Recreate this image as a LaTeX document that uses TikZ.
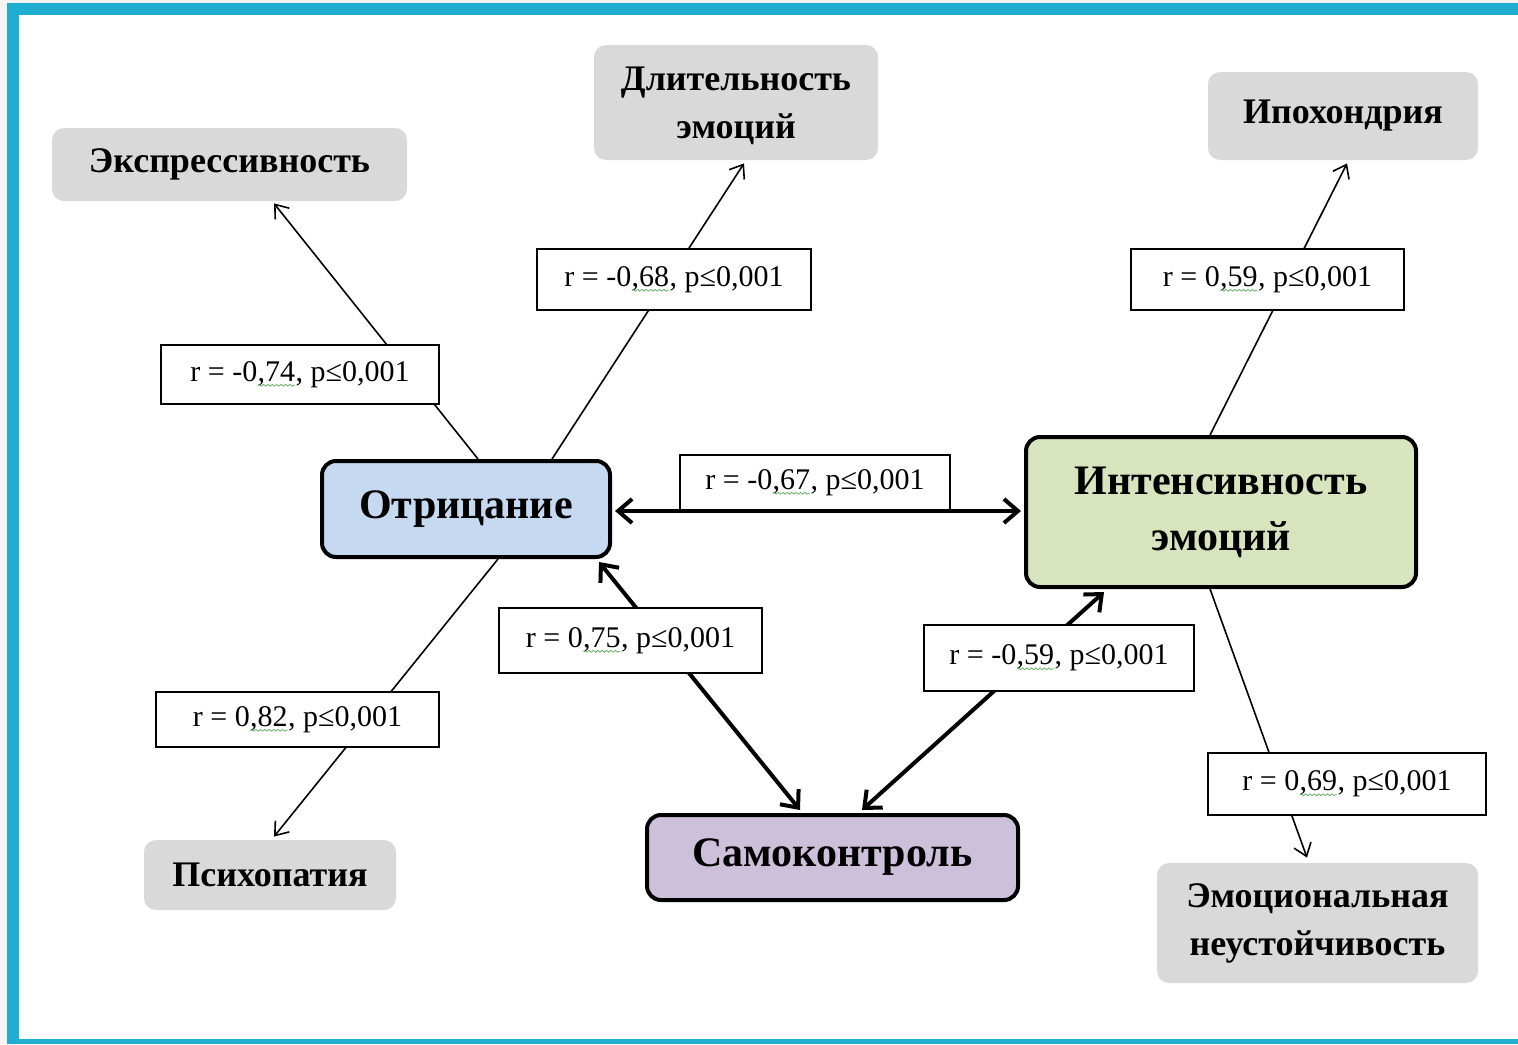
\documentclass[tikz,border=0pt]{standalone}
\usepackage{fontspec}
\setmainfont{Liberation Serif}
\usetikzlibrary{arrows.meta,calc,decorations.pathmorphing}
\definecolor{frame}{RGB}{31,174,207}
\definecolor{outbg}{RGB}{246,244,245}
\definecolor{greybox}{RGB}{217,217,217}
\definecolor{blueb}{RGB}{197,217,241}
\definecolor{greenb}{RGB}{215,228,189}
\definecolor{purpb}{RGB}{204,192,218}
\definecolor{wavyg}{RGB}{90,170,90}
\pgfdeclarelayer{back}
\pgfdeclarelayer{bg}
\pgfsetlayers{back,bg,main}
\newcommand\wv[1]{\tikz[baseline=(w.base)]{\node[draw=none,fill=none,inner sep=0pt,outer sep=0pt,minimum width=0pt,minimum height=0pt](w){#1};\draw[wavyg,line width=0.35pt,decorate,decoration={snake,amplitude=0.45pt,segment length=2.2pt}]([yshift=-2pt]w.base west)--([yshift=-2pt]w.base east);}}
\tikzset{
  greynode/.style={fill=greybox,rounded corners=6pt,inner sep=0pt,align=center,font=\fontsize{18}{24}\selectfont\bfseries},
  mainnode/.style={draw=black,line width=2pt,rounded corners=7pt,inner sep=0pt,align=center,font=\fontsize{21}{28}\selectfont\bfseries},
  lab/.style={draw=black,line width=0.6pt,fill=white,inner sep=0pt,font=\fontsize{15}{17}\selectfont},
  thinline/.style={line width=0.8pt,-{Straight Barb[length=6pt,width=9pt,line width=0.8pt]}},
  thickline/.style={line width=2pt,{Straight Barb[length=7pt,width=12pt,line width=2pt]}-{Straight Barb[length=7pt,width=12pt,line width=2pt]}}
}
\begin{document}
\begin{tikzpicture}[x=0.5pt,y=-0.5pt]
\useasboundingbox (0,0) rectangle (1518,1044);
\begin{pgfonlayer}{back}
\fill[outbg] (0,0) rectangle (1518,1044);
\fill[frame] (7,3) rectangle (1518,1044);
\fill[white] (19,15) rectangle (1518,1039);
\end{pgfonlayer}
% grey nodes
\node[greynode,minimum width=177.5pt,minimum height=36.5pt] (expr) at (229.5,164.5) {Экспрессивность};
\node[greynode,minimum width=142pt,minimum height=57.5pt,text depth=-2pt] (dlit) at (736,102.5) {Длительность\\эмоций};
\node[greynode,minimum width=135pt,minimum height=44pt] (ipo) at (1343,116) {\raisebox{1.5pt}{Ипохондрия}};
\node[greynode,minimum width=126pt,minimum height=35pt] (psy) at (270,875) {Психопатия};
\node[greynode,minimum width=160.5pt,minimum height=60pt] (emo) at (1317.5,923) {Эмоциональная\\неустойчивость};
% main nodes
\node[mainnode,fill=blueb,minimum width=144pt,minimum height=48pt] (otr) at (466,509) {Отрицание};
\node[mainnode,fill=greenb,minimum width=195pt,minimum height=75pt] (int) at (1221,512) {Интенсивность\\эмоций};
\node[mainnode,fill=purpb,minimum width=185.5pt,minimum height=42.5pt] (sam) at (832.5,857.5) {Самоконтроль};
% label boxes
\node[lab,minimum width=139pt,minimum height=29.5pt] (l74) at (300,374.5) {r = -0\wv{,74}, p≤0,001};
\node[lab,minimum width=137pt,minimum height=30.5pt] (l68) at (674,279.5) {r = -0\wv{,68}, p≤0,001};
\node[lab,minimum width=136.5pt,minimum height=30.5pt] (l59a) at (1267.5,279.5) {r = 0\wv{,59}, p≤0,001};
\node[lab,minimum width=135pt,minimum height=27.5pt] (l67) at (815,482.5) {\raisebox{-1.5pt}{r = -0\wv{,67}, p≤0,001}};
\node[lab,minimum width=141.5pt,minimum height=27.5pt] (l82) at (297.5,719.5) {r = 0\wv{,82}, p≤0,001};
\node[lab,minimum width=139pt,minimum height=31pt] (l69) at (1347,784) {r = 0\wv{,69}, p≤0,001};
% connectors
\begin{pgfonlayer}{bg}
\draw[thinline] ($(otr.north)+(12,0)$) -- ($(expr.south)+(44.5,2)$);
\draw[thinline] ($(otr.north)+(86,0)$) -- ($(dlit.south)+(8,3)$);
\draw[thinline] ($(int.north)+(-11,0)$) -- ($(ipo.south)+(4,3)$);
\draw[thinline] ($(otr.south)+(32,0)$) -- ($(psy.north)+(4,-3)$);
\draw[thinline] ($(int.south)+(-11,0)$) -- ($(emo.north)+(-10.5,-5)$);
\end{pgfonlayer}
\draw[thickline] ($(otr.east)+(3,2)$) -- ($(int.west)+(-3,-1)$);
\draw[thickline] ($(otr.south east)+(-13,3)$) -- ($(sam.north)+(-32.5,-3)$);
\draw[thickline] ($(sam.north)+(29.5,-3)$) -- ($(int.south west)+(80,3)$);
\node[lab,minimum width=131.5pt,minimum height=32.5pt] (l75) at (630.5,640.5) {r = 0\wv{,75}, p≤0,001};
\node[lab,minimum width=135pt,minimum height=33pt] (l59b) at (1059,658) {r = -0\wv{,59}, p≤0,001};
\end{tikzpicture}
\end{document}
